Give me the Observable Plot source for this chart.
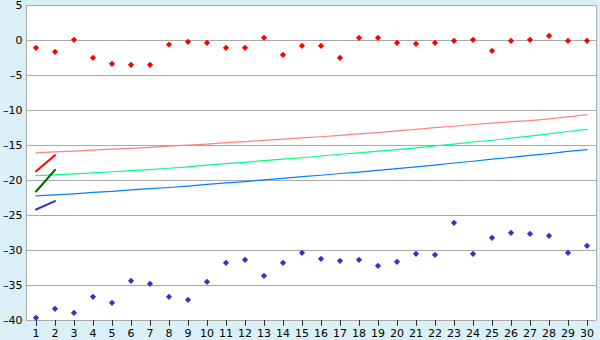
<!DOCTYPE html>
<html>
<head>
<meta charset="utf-8">
<script src="https://cdn.jsdelivr.net/npm/d3@7"></script>
<script src="https://cdn.jsdelivr.net/npm/@observablehq/plot@0.6"></script>
<style>
  html, body { margin: 0; padding: 0; background: #daf0f6; }
  #chart svg { display: block; }
</style>
</head>
<body>
<div id="chart"></div>
<script>
const days = d3.range(1, 31);
const xTicks = d3.range(1, 31);
const yTicks = [5, 0, -5, -10, -15, -20, -25, -30, -35, -40];

const redPoints = [-1.05, -1.62, 0.1, -2.48, -3.33, -3.48, -3.48, -0.57, -0.19, -0.33,
  -1.05, -1.05, 0.38, -2.05, -0.76, -0.76, -2.48, 0.38, 0.38, -0.33,
  -0.48, -0.33, -0.05, 0.1, -1.48, -0.05, 0.1, 0.67, -0.05, -0.05];
const bluePoints = [-39.62, -38.33, -38.9, -36.62, -37.48, -34.33, -34.76, -36.62, -37.05, -34.48,
  -31.76, -31.33, -33.62, -31.76, -30.33, -31.19, -31.48, -31.33, -32.19, -31.62,
  -30.48, -30.62, -26.05, -30.48, -28.19, -27.48, -27.62, -27.9, -30.33, -29.33];

const redLine = [-16.05, -15.92, -15.8, -15.67, -15.53, -15.4, -15.26, -15.1, -14.95, -14.8,
  -14.6, -14.45, -14.28, -14.1, -13.92, -13.75, -13.55, -13.35, -13.15, -12.9,
  -12.7, -12.45, -12.25, -12.0, -11.8, -11.6, -11.45, -11.2, -10.9, -10.6];
const greenLine = [-19.3, -19.2, -19.05, -18.9, -18.75, -18.6, -18.45, -18.25, -18.05, -17.8,
  -17.6, -17.4, -17.15, -16.95, -16.75, -16.5, -16.25, -16.05, -15.8, -15.6,
  -15.35, -15.05, -14.8, -14.5, -14.25, -13.95, -13.65, -13.35, -13.0, -12.7];
const blueLine = [-22.2, -22.05, -21.9, -21.7, -21.55, -21.35, -21.15, -21.0, -20.8, -20.55,
  -20.35, -20.15, -19.9, -19.7, -19.45, -19.25, -19.0, -18.8, -18.55, -18.3,
  -18.05, -17.8, -17.5, -17.25, -16.95, -16.7, -16.4, -16.15, -15.85, -15.6];

const segX = [1, 2];
const segRed = [-18.67, -16.38];
const segGreen = [-21.57, -18.48];
const segBlue = [-24.14, -22.95];

const pts = (ys) => ys.map((y, i) => ({x: days[i], y}));
const seg = (ys) => ys.map((y, i) => ({x: segX[i], y}));
const fmt = d => d < 0 ? "\u2013" + (-d) : String(d);

const chart = Plot.plot({
  width: 600,
  height: 340,
  marginLeft: 26,
  marginRight: 4,
  marginTop: 5,
  marginBottom: 20,
  style: {background: "#daf0f6", fontFamily: "DejaVu Sans, sans-serif", fontSize: "11px", color: "#000"},
  x: {domain: [0.5, 30.5]},
  y: {domain: [-40, 5]},
  marks: [
    Plot.frame({fill: "white", stroke: "none"}),
    Plot.ruleY(yTicks, {stroke: "#aaaaaa", strokeWidth: 1, shapeRendering: "crispEdges"}),
    Plot.ruleX([0.5], {stroke: "#aaaaaa", shapeRendering: "crispEdges"}),
    Plot.ruleX([30.5], {stroke: "#aaaaaa", shapeRendering: "crispEdges"}),
    Plot.axisY({ticks: yTicks, tickSize: 0, tickPadding: 4, tickFormat: fmt, label: null, fontSize: 11}),
    Plot.axisX({ticks: xTicks, tickSize: 6, tickPadding: 3, tickFormat: d => String(d), label: null, stroke: "#333", fontSize: 11, shapeRendering: "crispEdges"}),
    Plot.line(pts(redLine), {x: "x", y: "y", stroke: "#ff8080", strokeWidth: 1.2}),
    Plot.line(pts(greenLine), {x: "x", y: "y", stroke: "#00ff80", strokeWidth: 1.2}),
    Plot.line(pts(blueLine), {x: "x", y: "y", stroke: "#0080ff", strokeWidth: 1.2}),
    Plot.line(seg(segRed), {x: "x", y: "y", stroke: "#ff0000", strokeWidth: 2}),
    Plot.line(seg(segGreen), {x: "x", y: "y", stroke: "#006400", strokeWidth: 2}),
    Plot.line(seg(segBlue), {x: "x", y: "y", stroke: "#3333cc", strokeWidth: 2}),
    Plot.dot(pts(redPoints), {x: "x", y: "y", symbol: "diamond2", r: 2.8, fill: "#ff0000", stroke: "none"}),
    Plot.dot(pts(bluePoints), {x: "x", y: "y", symbol: "diamond2", r: 2.8, fill: "#3333cc", stroke: "none"})
  ]
});
document.getElementById("chart").appendChild(chart);
</script>
</body>
</html>
